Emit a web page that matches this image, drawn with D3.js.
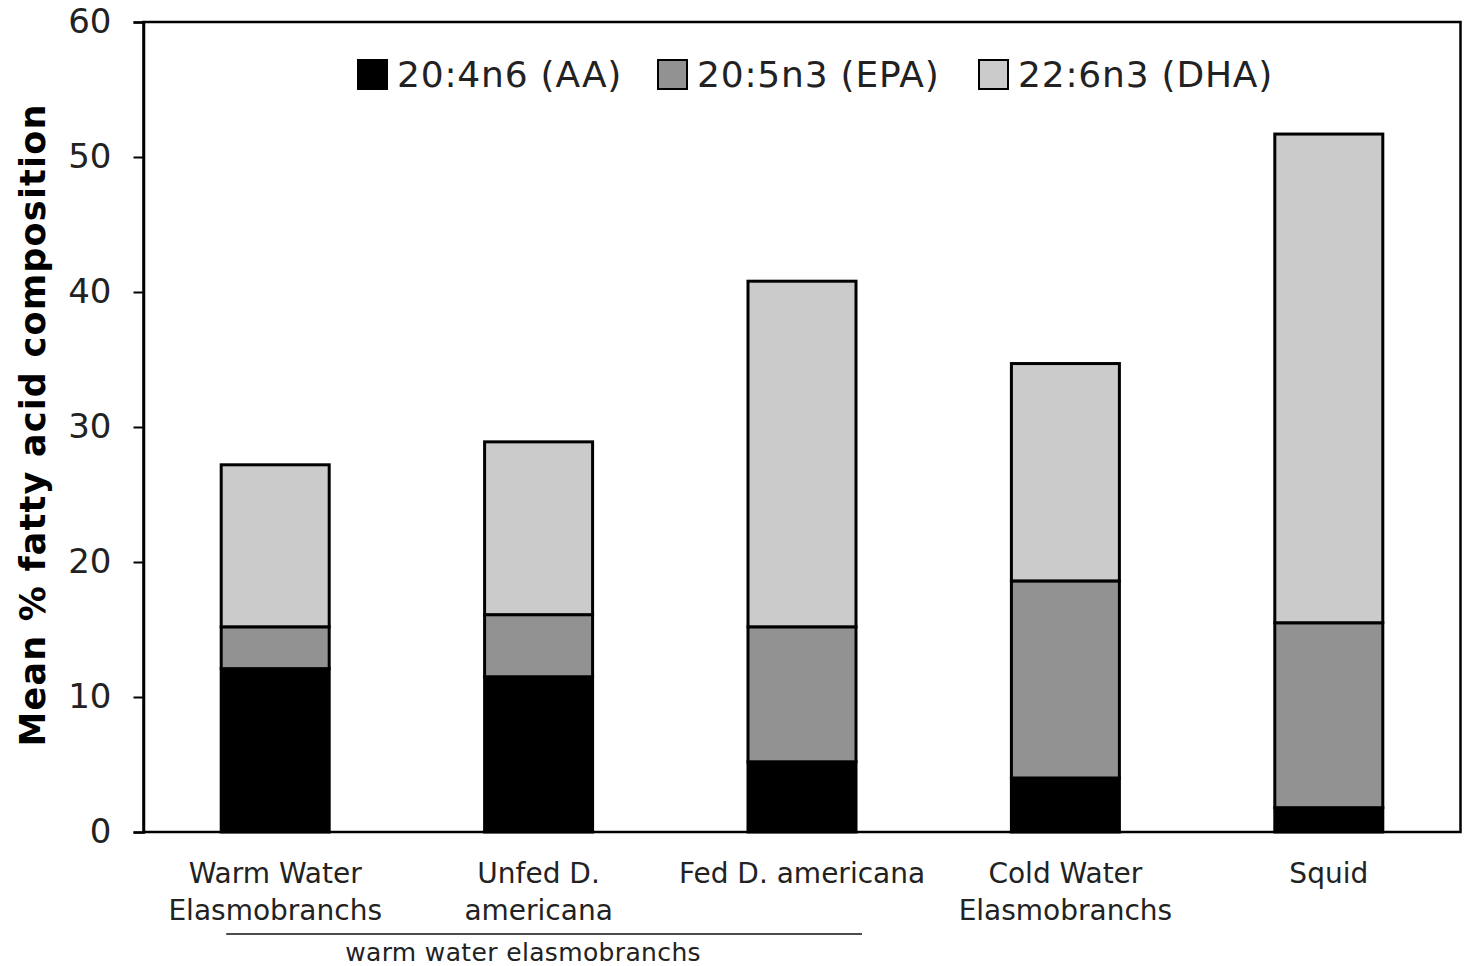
<!DOCTYPE html>
<html><head><meta charset="utf-8">
<script src="https://cdn.jsdelivr.net/npm/d3@7"></script>
<style>
html,body{margin:0;padding:0;background:#fff;}
svg{display:block;font-family:"DejaVu Sans",Verdana,sans-serif;}
</style></head>
<body>
<svg id="chart" width="1464" height="966"></svg>
<script>
const categories = [["Warm Water","Elasmobranchs"],["Unfed D.","americana"],["Fed D. americana"],["Cold Water","Elasmobranchs"],["Squid"]];
const catKeys = ["Warm Water Elasmobranchs","Unfed D. americana","Fed D. americana","Cold Water Elasmobranchs","Squid"];
const seriesNames = ["20:4n6 (AA)","20:5n3 (EPA)","22:6n3 (DHA)"];
const AA  = [12.1, 11.5, 5.2, 4.0, 1.8];
const EPA = [3.1, 4.6, 10.0, 14.6, 13.7];
const DHA = [12.0, 12.8, 25.6, 16.1, 36.2];
const yTicks = [0,10,20,30,40,50,60];
const colors = ["#000000","#929292","#cbcbcb"];
const groupLabel = "warm water elasmobranchs";
const groupMembers = ["Warm Water Elasmobranchs","Unfed D. americana","Fed D. americana"];

const svg = d3.select("#chart");
const pLeft = 143.5, pRight = 1460.5, pTop = 22, pBottom = 832;

const x = d3.scaleBand().domain(catKeys).range([pLeft, pRight]).paddingInner(0.59).paddingOuter(0.295);
const y = d3.scaleLinear().domain([0,60]).range([pBottom, pTop]);

const rows = catKeys.map((k,i)=>({key:k, AA:AA[i], EPA:EPA[i], DHA:DHA[i]}));
const stack = d3.stack().keys(["AA","EPA","DHA"])(rows);

// bars
stack.forEach((layer, li) => {
  svg.append("g").selectAll("rect").data(layer).join("rect")
    .attr("x", d => x(d.data.key))
    .attr("width", x.bandwidth())
    .attr("y", d => y(d[1]))
    .attr("height", d => y(d[0]) - y(d[1]))
    .attr("fill", colors[li])
    .attr("stroke", "#000")
    .attr("stroke-width", 3);
});

// frame
svg.append("rect").attr("x", pLeft).attr("y", pTop).attr("width", pRight-pLeft).attr("height", pBottom-pTop)
  .attr("fill","none").attr("stroke","#000").attr("stroke-width",2.5);

// y axis
const yAxis = svg.append("g").attr("transform",`translate(${pLeft},0)`)
  .call(d3.axisLeft(y).tickValues(yTicks).tickSize(10).tickPadding(22).tickFormat(d3.format("d")));
yAxis.select(".domain").attr("stroke","#000").attr("stroke-width",2.5);
yAxis.selectAll(".tick line").attr("stroke","#000").attr("stroke-width",2);
yAxis.selectAll(".tick text").attr("font-size",34).attr("fill","#222").attr("font-family","DejaVu Sans");

// y title
svg.append("text").attr("transform","translate(45,425) rotate(-90)")
  .attr("text-anchor","middle").attr("font-size",35).attr("letter-spacing",1.2).attr("font-weight","bold").attr("fill","#000")
  .text("Mean % fatty acid composition");

// x labels
const xl = svg.append("g");
categories.forEach((lines,i)=>{
  const cx = x(catKeys[i]) + x.bandwidth()/2;
  const t = xl.append("text").attr("text-anchor","middle").attr("font-size",28).attr("fill","#222")
    .attr("x", cx).attr("y", 883);
  lines.forEach((ln,j)=> t.append("tspan").attr("x", cx).attr("dy", j===0?0:37).text(ln));
});

// group bracket
const gx0 = x(groupMembers[0]) + 5, gx1 = x(groupMembers[2]) + x.bandwidth() + 6;
svg.append("line").attr("x1",gx0).attr("x2",gx1).attr("y1",934).attr("y2",934).attr("stroke","#111").attr("stroke-width",1.6);
svg.append("text").attr("x",(gx0+gx1)/2 - 21).attr("y",961).attr("text-anchor","middle").attr("font-size",25)
  .attr("letter-spacing",0.35).attr("fill","#222")
  .text(groupLabel);

// legend
const legendX = [358, 658, 979];
const lg = svg.append("g");
seriesNames.forEach((n,i)=>{
  lg.append("rect").attr("x",legendX[i]).attr("y",60).attr("width",29).attr("height",29)
    .attr("fill",colors[i]).attr("stroke","#000").attr("stroke-width",2);
  lg.append("text").attr("x",legendX[i]+39).attr("y",87).attr("font-size",36).attr("letter-spacing",0.8).attr("fill","#222").text(n);
});
</script>
</body></html>
